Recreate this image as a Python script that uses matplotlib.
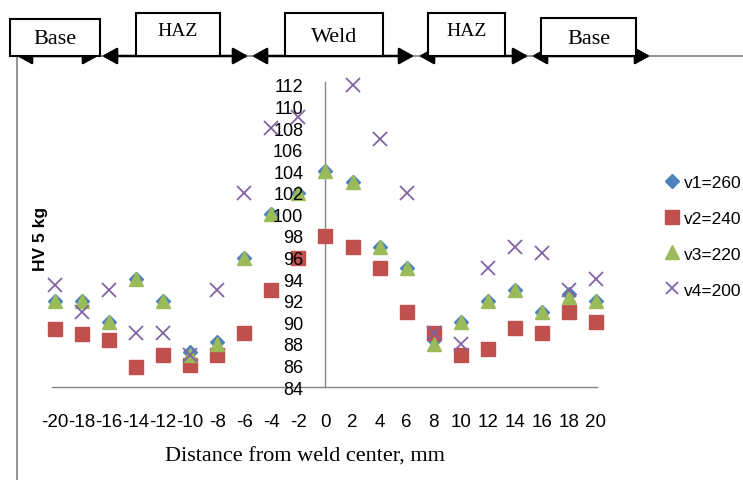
import matplotlib
matplotlib.use("Agg")
import matplotlib.pyplot as plt
import numpy as np
from matplotlib.patches import Rectangle, FancyArrowPatch
from matplotlib.lines import Line2D

# data
dist = [-20, -18, -16, -14, -12, -10, -8, -6, -4, -2, 0, 2, 4, 6, 8, 10, 12, 14, 16, 18, 20]
v1 = [92, 92, 90, 94, 92, 87.2, 88.2, 96, 100, 102, 104, 103, 97, 95, 88.4, 90, 92, 93, 91, 92.6, 92]
v2 = [89.4, 88.9, 88.4, 85.9, 87, 86, 87, 89, 93, 96, 98, 97, 95, 91, 89, 87, 87.5, 89.5, 89, 91, 90]
v3 = [92, 92, 90, 94, 92, 87, 88, 96, 100, 102, 104, 103, 97, 95, 88, 90, 92, 93, 91, 92.3, 92]
v4 = [93.5, 91, 93, 89, 89, 87, 93, 102, 108, 109, np.nan, 112, 107, 102, 89, 88, 95, 97, 96.4, 93, 94]
labels = ["v1=260", "v2=240", "v3=220", "v4=200"]
yticks = list(range(84, 113, 2))
zones = ["Base", "HAZ", "Weld", "HAZ", "Base"]

W, H = 743, 481
fig = plt.figure(figsize=(W / 100, H / 100), dpi=100)

def fx(px):
    return px / W

def fy(py):
    return 1 - py / H

ax = fig.add_axes([fx(27.95), fy(398.8), (623 - 27.95) / W, (398.8 - 75.2) / H])
ax.set_xlim(-22, 22)
ax.set_ylim(83, 113)
ax.set_axisbelow(False)

ax.plot(dist, v1, linestyle="none", marker="D", ms=7.6, color="#4F81BD", label=labels[0])
ax.plot(dist, v2, linestyle="none", marker="s", ms=10.5, color="#C0504D", label=labels[1])
ax.plot(dist, v3, linestyle="none", marker="^", ms=10.5, color="#9BBB59", label=labels[2])
ax.plot(dist, v4, linestyle="none", marker="x", ms=10, mew=1.3, color="#8064A2", label=labels[3])

for s in ["top", "right"]:
    ax.spines[s].set_visible(False)
ax.spines["left"].set_position(("data", 0))
ax.spines["left"].set_bounds(84, 112.3)
ax.spines["bottom"].set_position(("data", 84))
ax.spines["bottom"].set_bounds(-20.2, 20.1)
for s in ["left", "bottom"]:
    ax.spines[s].set_color("#868686")
    ax.spines[s].set_linewidth(1)
    ax.spines[s].set_zorder(1.5)

ax.set_xticks(dist)
ax.set_xticklabels([str(d) for d in dist], fontfamily="Liberation Sans", fontsize=13.5)
ax.set_yticks(yticks)
ax.set_yticklabels([str(t) for t in yticks], fontfamily="Liberation Sans", fontsize=13)
ax.tick_params(axis="x", length=0, pad=19)
ax.tick_params(axis="y", length=0, pad=16)
ax.set_zorder(1)
ax.patch.set_alpha(0)

fig.text(fx(305), fy(457), "Distance from weld center, mm", ha="center", va="center",
         fontfamily="Liberation Serif", fontsize=16)
fig.text(fx(40), fy(239), "HV 5 kg", ha="center", va="center", rotation=90,
         fontfamily="Liberation Sans", fontweight="bold", fontsize=12.5)

ax.legend(loc="center left", bbox_to_anchor=(fx(656), fy(237)), bbox_transform=fig.transFigure,
          frameon=False, prop={"family": "Liberation Sans", "size": 12.5},
          labelspacing=1.2, handlelength=0.8, handletextpad=0.3, borderpad=0, markerscale=0.9)

# frame lines
fig.add_artist(Line2D([fx(17), fx(17)], [fy(57), fy(481)], color="#808080", lw=1.2,
                      transform=fig.transFigure))
fig.add_artist(Line2D([fx(17), fx(743)], [fy(57), fy(57)], color="#808080", lw=1.2,
                      transform=fig.transFigure))

# zone arrows
segs = [(17, 98), (102, 248), (252, 414), (419, 528), (532, 650)]
for a, b in segs:
    fig.add_artist(FancyArrowPatch((fx(a), fy(57)), (fx(b), fy(57)),
                                   arrowstyle="<|-|>,head_length=0.75,head_width=0.42",
                                   mutation_scale=12, color="black", lw=1.8, shrinkA=0, shrinkB=0,
                                   transform=fig.transFigure, zorder=3))

# zone boxes
boxes = [(10, 100, 20), (136, 220, 14), (285, 383, 14), (428, 505, 14), (541, 636, 19)]
text_y = [40, 32, 38, 32, 40]
for (x0, x1, top), name, ty in zip(boxes, zones, text_y):
    fig.add_artist(Rectangle((fx(x0), fy(57)), fx(x1) - fx(x0), fy(top) - fy(57),
                             facecolor="white", edgecolor="black", lw=1.5,
                             transform=fig.transFigure, zorder=4))
    fig.text(fx((x0 + x1) / 2), fy(ty), name, ha="center", va="center",
             fontfamily="Liberation Serif", fontsize=16 if name != "HAZ" else 14, zorder=5)

fig.savefig("out.png", dpi=100)
